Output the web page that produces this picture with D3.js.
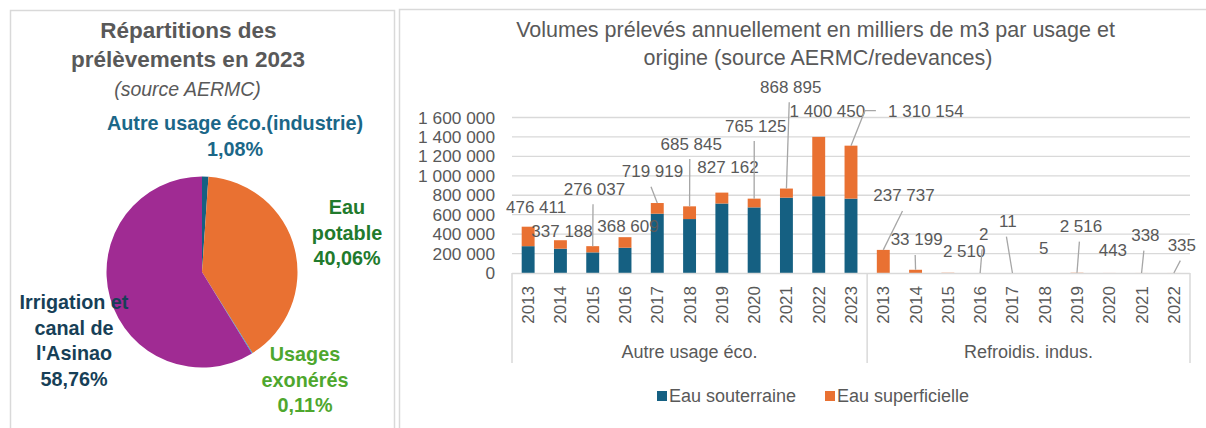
<!DOCTYPE html>
<html lang="fr">
<head>
<meta charset="utf-8">
<script src="https://cdn.jsdelivr.net/npm/d3@7"></script>
<style>
  html, body { margin: 0; padding: 0; background: #ffffff; }
  svg { display: block; font-family: "Liberation Sans", Arial, sans-serif; }
</style>
</head>
<body>
<svg id="chart" width="1206" height="428"></svg>
<script>
// ---- Pie: share of withdrawals in 2023 ----
const pieCategories = ["Autre usage éco.(industrie)", "Eau potable", "Usages exonérés", "Irrigation et canal de l'Asinao"];
const pieShares = [1.08, 40.06, 0.11, 58.76];
const pieLabelLines = [["Autre usage éco.(industrie)"], ["Eau", "potable"], ["Usages", "exonérés"], ["Irrigation et", "canal de", "l'Asinao"]];
const pieColors = ["#156082", "#E97132", "#0F9ED5", "#A02B93"];
const pieLabelColors = ["#1b6788", "#217a2c", "#4ea72e", "#173f57"];

// ---- Bars: yearly volumes (thousand m3) by use and origin ----
const groups = ["Autre usage éco.", "Refroidis. indus."];
const autreYears = ["2013", "2014", "2015", "2016", "2017", "2018", "2019", "2020", "2021", "2022", "2023"];
const autreSouterraine = [276000, 250000, 212000, 260000, 610000, 555000, 715000, 675000, 775000, 790000, 765000];
const autreSuperficielle = [200411, 87188, 64037, 108609, 109919, 130845, 112162, 90125, 93895, 610450, 545154];
const refroidYears = ["2013", "2014", "2015", "2016", "2017", "2018", "2019", "2020", "2021", "2022"];
const refroidSouterraine = [0, 0, 0, 0, 0, 0, 0, 0, 0, 0];
const refroidSuperficielle = [237737, 33199, 2510, 2, 11, 5, 2516, 443, 338, 335];
const seriesNames = ["Eau souterraine", "Eau superficielle"];
const seriesColors = ["#156082", "#E97132"];
const yTicks = [0, 200000, 400000, 600000, 800000, 1000000, 1200000, 1400000, 1600000];

// label placement relative to the top of each stack: [dx, dy, leader]
const labelLayout = [
  [8, -19.5, ""], [1.6, -8.5, ""], [1.8, -57, "line"], [3, -10.5, ""], [-4.8, -31.3, "line"],
  [1.7, -62.3, "line"], [6.1, -25.3, ""], [1.6, -72.6, "line"], [4.3, -101.3, "line"],
  [8.7, -25.2, ""], [74.9, -34, "side"],
  [20.7, -53.9, "line"], [1.1, -29.8, "line"], [16.3, -21.2, ""], [3.5, -38.8, "line"],
  [-4.5, -51.3, "line"], [-1, -24.7, ""], [3.9, -46.1, "line"], [3.6, -22.3, ""],
  [3.8, -37.3, "line"], [8, -27.3, "line"]
];

const svg = d3.select("#chart");
const grey = "#595959";
const border = "#d9d9d9";
const fmt = v => d3.format(",")(v).replace(/,/g, " ");

// panel frames
svg.append("rect").attr("x", 10.5).attr("y", 10.5).attr("width", 384).attr("height", 440)
  .attr("fill", "none").attr("stroke", border).attr("stroke-width", 1.5);
svg.append("rect").attr("x", 399.5).attr("y", 9.5).attr("width", 830).attr("height", 440)
  .attr("fill", "none").attr("stroke", border).attr("stroke-width", 1.5);

// ===== Pie panel =====
const pieTitle = svg.append("g").attr("fill", grey).attr("text-anchor", "middle");
pieTitle.append("text").attr("x", 188.5).attr("y", 30).attr("dominant-baseline", "central")
  .attr("font-size", 22.5).attr("font-weight", "bold").text("Répartitions des");
pieTitle.append("text").attr("x", 188).attr("y", 59).attr("dominant-baseline", "central")
  .attr("font-size", 22.5).attr("font-weight", "bold").text("prélèvements en 2023");
pieTitle.append("text").attr("x", 187.5).attr("y", 89).attr("dominant-baseline", "central")
  .attr("font-size", 19.5).attr("font-style", "italic").text("(source AERMC)");

const pieCenter = [202, 272];
const pieRadius = 95.5;
const pie = d3.pie().sort(null).startAngle(0).endAngle(2 * Math.PI);
const arc = d3.arc().innerRadius(0).outerRadius(pieRadius);
svg.append("g").attr("transform", `translate(${pieCenter[0]},${pieCenter[1]})`)
  .selectAll("path").data(pie(pieShares)).join("path")
  .attr("d", arc).attr("fill", (d, i) => pieColors[i]);

// label anchor points and line spacing
const pieLabelPos = [[235, 123], [347, 207], [305, 354], [74, 302]];
const pieLineGap = 25.6;
pieCategories.forEach((c, i) => {
  const lines = pieLabelLines[i].concat([d3.format(".2f")(pieShares[i]).replace(".", ",") + "%"]);
  const t = svg.append("text").attr("text-anchor", "middle").attr("font-weight", "bold")
    .attr("font-size", 19.8).attr("fill", pieLabelColors[i]);
  lines.forEach((ln, k) => {
    t.append("tspan").attr("x", pieLabelPos[i][0]).attr("y", pieLabelPos[i][1] + k * pieLineGap)
      .attr("dominant-baseline", "central").text(ln);
  });
});

// ===== Bar panel =====
const title = svg.append("g").attr("fill", grey).attr("text-anchor", "middle").attr("font-size", 21.5);
title.append("text").attr("x", 815.5).attr("y", 30).attr("dominant-baseline", "central")
  .text("Volumes prélevés annuellement en milliers de m3 par usage et");
title.append("text").attr("x", 818).attr("y", 58).attr("dominant-baseline", "central")
  .text("origine (source AERMC/redevances)");

const rows = [];
autreYears.forEach((yr, i) => rows.push({ group: groups[0], year: yr, s: autreSouterraine[i], f: autreSuperficielle[i] }));
refroidYears.forEach((yr, i) => rows.push({ group: groups[1], year: yr, s: refroidSouterraine[i], f: refroidSuperficielle[i] }));
rows.forEach((r, i) => { r.key = r.group + "|" + r.year; r.total = r.s + r.f; r.layout = labelLayout[i]; });

const x = d3.scaleBand().domain(rows.map(r => r.key)).range([512, 1190]).paddingInner(0.6).paddingOuter(0.3);
const y = d3.scaleLinear().domain([0, 1600000]).range([273, 117.5]);

// gridlines
svg.append("g").selectAll("line").data(yTicks.slice(1)).join("line")
  .attr("x1", 512).attr("x2", 1190).attr("y1", d => y(d)).attr("y2", d => y(d))
  .attr("stroke", border).attr("stroke-width", 1.3);

// y axis labels
const yAxis = svg.append("g").attr("transform", "translate(495,0)")
  .call(d3.axisLeft(y).tickValues(yTicks).tickFormat(fmt).tickSize(0).tickPadding(0));
yAxis.select(".domain").remove();
yAxis.selectAll("text").attr("font-size", 17.3).attr("fill", grey).attr("font-family", "Liberation Sans, Arial, sans-serif");

// stacked bars
const stack = d3.stack().keys(["s", "f"]);
const layers = stack(rows);
svg.append("g").selectAll("g").data(layers).join("g").attr("fill", (d, i) => seriesColors[i])
  .selectAll("rect").data(d => d).join("rect")
  .attr("x", d => x(d.data.key)).attr("width", x.bandwidth())
  .attr("y", d => y(d[1])).attr("height", d => Math.max(0, y(d[0]) - y(d[1])));

// category axis: baseline, group dividers, year and group labels
svg.append("line").attr("x1", 512).attr("x2", 1190).attr("y1", 273.5).attr("y2", 273.5)
  .attr("stroke", border).attr("stroke-width", 1.5);
const firstOf = g => rows.find(r => r.group === g).key;
const lastOf = g => rows.filter(r => r.group === g).slice(-1)[0].key;
const groupEdges = [x(firstOf(groups[0])) - x.step() * 0.3,
                    x(firstOf(groups[1])) - x.step() * 0.3,
                    x(lastOf(groups[1])) + x.bandwidth() + x.step() * 0.3];
svg.append("g").selectAll("line").data(groupEdges).join("line")
  .attr("x1", d => d).attr("x2", d => d).attr("y1", 273).attr("y2", 363)
  .attr("stroke", border).attr("stroke-width", 1.5);

const xAxis = svg.append("g").attr("transform", "translate(0,286)")
  .call(d3.axisBottom(x).tickFormat(k => k.split("|")[1]).tickSize(0).tickPadding(0));
xAxis.select(".domain").remove();
xAxis.selectAll("text")
  .attr("font-size", 17).attr("fill", grey).attr("font-family", "Liberation Sans, Arial, sans-serif")
  .attr("transform", "rotate(-90)").attr("text-anchor", "end")
  .attr("x", 0).attr("y", 0).attr("dy", "0.35em");

svg.append("g").selectAll("text").data(groups).join("text")
  .attr("x", (g, i) => (groupEdges[i] + groupEdges[i + 1]) / 2).attr("y", 352)
  .attr("text-anchor", "middle").attr("dominant-baseline", "central")
  .attr("font-size", 18).attr("fill", grey).text(g => g);

// value labels with leader lines
const labels = svg.append("g");
rows.forEach(r => {
  const ax = x(r.key) + x.bandwidth() / 2;
  const ay = y(r.total);
  const [dx, dy, leader] = r.layout;
  const cx = ax + dx, cy = ay + dy;
  if (leader === "line") {
    labels.append("line").attr("x1", cx - 1.5).attr("y1", cy + 15).attr("x2", ax).attr("y2", ay)
      .attr("stroke", "#a6a6a6").attr("stroke-width", 1.3);
  } else if (leader === "side") {
    labels.append("polyline").attr("points", `${cx - 50},${cy - 1} ${cx - 61},${cy - 1} ${ax},${ay}`)
      .attr("fill", "none").attr("stroke", "#a6a6a6").attr("stroke-width", 1.3);
  }
  labels.append("text").attr("x", cx).attr("y", cy).attr("text-anchor", "middle")
    .attr("dominant-baseline", "central").attr("font-size", 17).attr("fill", grey)
    .text(fmt(r.total));
});

// legend
const legend = svg.append("g");
const legendX = [657, 825];
seriesNames.forEach((n, i) => {
  legend.append("rect").attr("x", legendX[i]).attr("y", 391).attr("width", 10).attr("height", 10)
    .attr("fill", seriesColors[i]);
  legend.append("text").attr("x", legendX[i] + 12).attr("y", 396).attr("dominant-baseline", "central")
    .attr("font-size", 18).attr("fill", grey).text(n);
});
</script>
</body>
</html>
